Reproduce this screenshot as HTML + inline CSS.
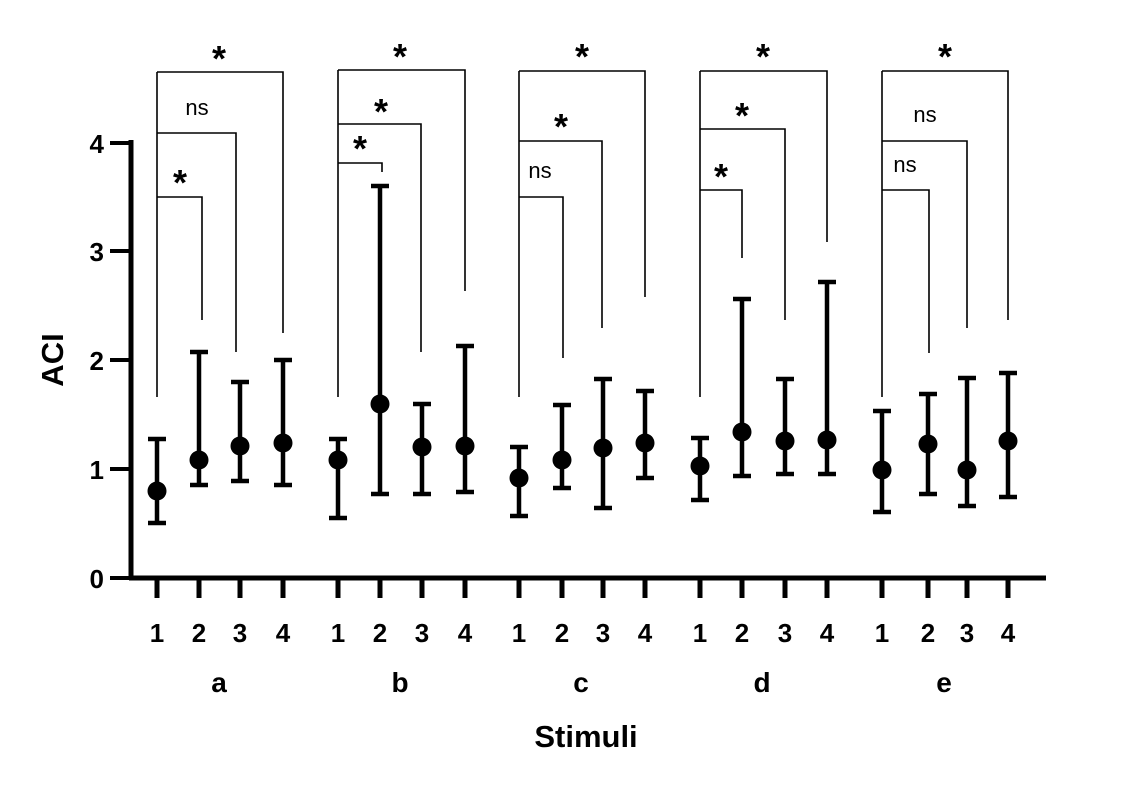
<!DOCTYPE html>
<html><head><style>body{margin:0;background:#fff}svg{display:block}</style></head><body>
<svg width="1147" height="786" xmlns="http://www.w3.org/2000/svg" font-family="Liberation Sans, Arial, sans-serif">
<rect width="1147" height="786" fill="#fff"/>
<g stroke="#000" fill="none">
<line x1="131" y1="140" x2="131" y2="580" stroke-width="5"/>
<line x1="129" y1="578" x2="1046" y2="578" stroke-width="5"/>
<g stroke-width="4">
<line x1="110" y1="143" x2="131" y2="143"/><line x1="110" y1="251" x2="131" y2="251"/>
<line x1="110" y1="360" x2="131" y2="360"/><line x1="110" y1="469" x2="131" y2="469"/>
<line x1="110" y1="578" x2="131" y2="578"/>
</g>
</g>
<g id="content"></g>
<g font-weight="bold" font-size="26" text-anchor="end">
<text x="104" y="153">4</text><text x="104" y="261">3</text><text x="104" y="370">2</text><text x="104" y="479">1</text><text x="104" y="588">0</text>
</g>
<text transform="translate(63,360) rotate(-90)" font-weight="bold" font-size="31" text-anchor="middle">ACI</text>
<g font-weight="bold" font-size="28" text-anchor="middle">
<text x="219" y="692">a</text><text x="400" y="692">b</text><text x="581" y="692">c</text><text x="762" y="692">d</text><text x="944" y="692">e</text>
</g>
<text x="586" y="747" font-weight="bold" font-size="31" text-anchor="middle">Stimuli</text>
<script>
var ns="http://www.w3.org/2000/svg",g=document.getElementById("content");
function el(t,a,txt){var e=document.createElementNS(ns,t);for(var k in a)e.setAttribute(k,a[k]);if(txt)e.textContent=txt;g.appendChild(e);}
var X=[[157,199,240,283],[338,380,422,465],[519,562,603,645],[700,742,785,827],[882,928,967,1008]];
var D=[[[491,439,523],[460,352,485],[446,382,481],[443,360,485]],
[[460,439,518],[404,186,494],[447,404,494],[446,346,492]],
[[478,447,516],[460,405,488],[448,379,508],[443,391,478]],
[[466,438,500],[432,299,476],[441,379,474],[440,282,474]],
[[470,411,512],[444,394,494],[470,378,506],[441,373,497]]];
var B=[[[72,283,333],[133,236,352],[197,202,320]],
[[70,465,291],[124,421,352],[163,382,172]],
[[71,645,297],[141,602,328],[197,563,358]],
[[71,827,242],[129,785,320],[190,742,258]],
[[71,1008,320],[141,967,328],[190,929,353]]];
var L=[[["*",219,62],["ns",197,115],["*",180,186]],[["*",400,60],["*",381,115],["*",360,152]],[["*",582,60],["*",561,130],["ns",540,178]],[["*",763,60],["*",742,119],["*",721,180]],[["*",945,60],["ns",925,122],["ns",905,172]]];
for(var i=0;i<5;i++){
 for(var j=0;j<4;j++){var x=X[i][j],d=D[i][j];
  el("line",{x1:x,y1:580,x2:x,y2:598,stroke:"#000","stroke-width":5});
  el("text",{x:x,y:642,"font-weight":"bold","font-size":26,"text-anchor":"middle"},String(j+1));
  el("line",{x1:x,y1:d[1],x2:x,y2:d[2],stroke:"#000","stroke-width":4.5});
  el("line",{x1:x-9,y1:d[1],x2:x+9,y2:d[1],stroke:"#000","stroke-width":4.5});
  el("line",{x1:x-9,y1:d[2],x2:x+9,y2:d[2],stroke:"#000","stroke-width":4.5});
  el("circle",{cx:x,cy:d[0],r:9.5,fill:"#000"});
 }
 var x0=X[i][0];
 el("line",{x1:x0,y1:B[i][0][0],x2:x0,y2:397,stroke:"#000","stroke-width":1.6});
 B[i].forEach(function(b){el("polyline",{points:x0+","+b[0]+" "+b[1]+","+b[0]+" "+b[1]+","+b[2],stroke:"#000","stroke-width":1.6,fill:"none"});});
 L[i].forEach(function(l){ if(l[0]=="*") el("text",{x:l[1],y:l[2]+9,"font-weight":"bold","font-size":36,"text-anchor":"middle"},"*");
  else el("text",{x:l[1],y:l[2],"font-size":22,"text-anchor":"middle"},"ns");});
}
</script>
</svg>
</body></html>
